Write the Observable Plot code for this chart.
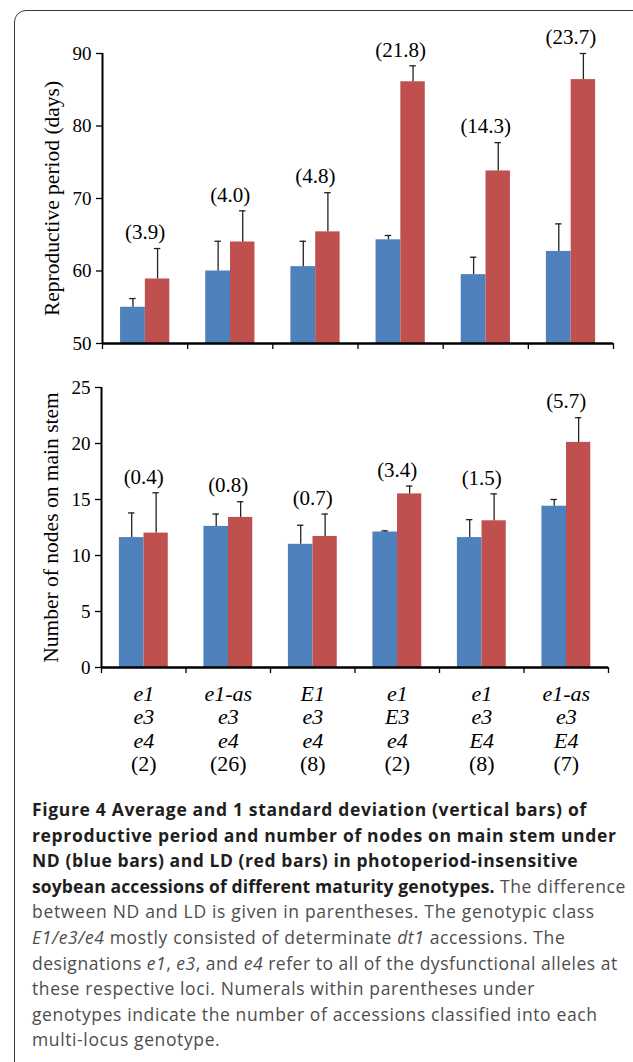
<!DOCTYPE html>
<html>
<head>
<meta charset="utf-8">
<script src="https://cdn.jsdelivr.net/npm/d3@7"></script>
<script src="https://cdn.jsdelivr.net/npm/@observablehq/plot@0.6"></script>
<style>
  html, body { margin: 0; padding: 0; background: #fff; width: 633px; height: 1062px; overflow: hidden; }
  #frame { position: absolute; left: 14px; top: 10px; width: 700px; height: 1200px; border: 1.5px solid #3a3a3a; border-radius: 12px; box-sizing: border-box; }
  #top { position: absolute; left: 0; top: 0; }
  #bottom { position: absolute; left: 0; top: 360px; }
  #caption { position: absolute; left: 32px; top: 797px; font-family: "Open Sans", sans-serif; font-size: 17.5px; line-height: 25.6px; color: #4d4d4d; letter-spacing: 0.62px; white-space: nowrap; }
  #caption b { color: #1e1e1e; font-weight: 700; letter-spacing: 0.66px; }
  #caption div { height: 25.6px; }
</style>
</head>
<body>
<div id="frame"></div>
<div id="top"></div>
<div id="bottom"></div>
<div id="caption">
<div><b>Figure 4 Average and 1 standard deviation (vertical bars) of</b></div>
<div><b>reproductive period and number of nodes on main stem under</b></div>
<div><b style="letter-spacing:0.56px">ND (blue bars) and LD (red bars) in photoperiod-insensitive</b></div>
<div><b style="letter-spacing:0.12px">soybean accessions of different maturity genotypes.</b> The difference</div>
<div style="letter-spacing:0.68px">between ND and LD is given in parentheses. The genotypic class</div>
<div><i>E1/e3/e4</i> mostly consisted of determinate <i>dt1</i> accessions. The</div>
<div style="letter-spacing:0.52px">designations <i>e1</i>, <i>e3</i>, and <i>e4</i> refer to all of the dysfunctional alleles at</div>
<div>these respective loci. Numerals within parentheses under</div>
<div>genotypes indicate the number of accessions classified into each</div>
<div>multi-locus genotype.</div>
</div>
<script>
// ---- data ----
const locusE1 = ["e1", "e1-as", "E1", "e1", "e1", "e1-as"];
const locusE3 = ["e3", "e3", "e3", "E3", "e3", "e3"];
const locusE4 = ["e4", "e4", "e4", "e4", "E4", "E4"];
const accessions = ["(2)", "(26)", "(8)", "(2)", "(8)", "(7)"];

const reproND   = [55.0, 60.0, 60.6, 64.3, 59.5, 62.7];
const reproNDsd = [1.2, 4.1, 3.5, 0.6, 2.4, 3.8];
const reproLD   = [58.9, 64.0, 65.4, 86.1, 73.8, 86.4];
const reproLDsd = [4.2, 4.3, 5.4, 2.2, 3.9, 3.6];
const reproDiff = ["(3.9)", "(4.0)", "(4.8)", "(21.8)", "(14.3)", "(23.7)"];
const reproTicks = [50, 60, 70, 80, 90];

const nodesND   = [11.6, 12.6, 11.0, 12.1, 11.6, 14.4];
const nodesNDsd = [2.2, 1.1, 1.7, 0.1, 1.6, 0.6];
const nodesLD   = [12.0, 13.4, 11.7, 15.5, 13.1, 20.1];
const nodesLDsd = [3.6, 1.4, 2.0, 0.7, 2.4, 2.2];
const nodesDiff = ["(0.4)", "(0.8)", "(0.7)", "(3.4)", "(1.5)", "(5.7)"];
const nodesTicks = [0, 5, 10, 15, 20, 25];

// ---- style ----
const BLUE = "#4f81bd", RED = "#c0504d";
const BAR = {l: 0.212, m: 0.503, r: 0.79};
const CAP = 0.038;
const SERIF = "'Liberation Serif', 'Times New Roman', serif";

function chart({nd, ndSd, ld, ldSd, diff, ticks, label, height, margins, bottomLabels}) {
  const lo = ticks[0], hi = ticks[ticks.length - 1];
  const rows = [];
  nd.forEach((v, i) => {
    rows.push({i, s: "ND", v, sd: ndSd[i], x1: i + BAR.l, x2: i + BAR.m});
    rows.push({i, s: "LD", v: ld[i], sd: ldSd[i], x1: i + BAR.m, x2: i + BAR.r});
  });
  const groups = nd.map((v, i) => ({i, top: Math.max(v + ndSd[i], ld[i] + ldSd[i]), diff: diff[i]}));
  const cx = d => (d.x1 + d.x2) / 2;
  const marks = [
    Plot.rectY(rows, {x1: "x1", x2: "x2", y1: () => lo, y2: "v", fill: d => d.s === "ND" ? BLUE : RED}),
    Plot.ruleX(rows, {x: cx, y1: "v", y2: d => d.v + d.sd, stroke: "#222", strokeWidth: 1.3}),
    Plot.ruleY(rows, {y: d => d.v + d.sd, x1: d => cx(d) - CAP, x2: d => cx(d) + CAP, stroke: "#222", strokeWidth: 1.3}),
    Plot.text(groups, {x: d => d.i + 0.5, y: "top", text: "diff", dy: -16, fontSize: 21, fill: "#000"}),
    Plot.axisY({ticks, tickSize: 6, tickPadding: 5, label: null, fontSize: 19, stroke: "#000", strokeWidth: 1.3}),
    Plot.axisX({ticks: d3.range(0, 7), tickSize: 6, tickFormat: () => "", label: null, stroke: "#000", strokeWidth: 1.3}),
    Plot.ruleX([0], {stroke: "#000", strokeWidth: 2}),
    Plot.ruleY([lo], {stroke: "#000", strokeWidth: 2.5}),
    Plot.text([label], {frameAnchor: "left", textAnchor: "middle", rotate: -90, dx: -50, fontSize: 21.5, fill: "#000"})
  ];
  if (bottomLabels) {
    marks.push(
      Plot.text(groups, {x: d => d.i + 0.5, frameAnchor: "bottom", lineAnchor: "top", dy: 17, lineHeight: 1.06,
        text: d => [locusE1[d.i], locusE3[d.i], locusE4[d.i]].join("\n"), fontStyle: "italic", fontSize: 22, fill: "#000"}),
      Plot.text(groups, {x: d => d.i + 0.5, frameAnchor: "bottom", lineAnchor: "top", dy: 88,
        text: d => accessions[d.i], fontSize: 22, fill: "#000"})
    );
  }
  return Plot.plot({
    width: 633, height,
    marginLeft: margins[3], marginRight: margins[1], marginTop: margins[0], marginBottom: margins[2],
    x: {type: "linear", domain: [0, 6]},
    y: {domain: [lo, hi]},
    style: {fontFamily: SERIF, fontSize: "19px", color: "#000", background: "transparent", overflow: "visible"},
    marks
  });
}

document.getElementById("top").appendChild(chart({
  nd: reproND, ndSd: reproNDsd, ld: reproLD, ldSd: reproLDsd, diff: reproDiff, ticks: reproTicks,
  label: "Reproductive period (days)", height: 360, margins: [53, 20, 17, 102]
}));
document.getElementById("bottom").appendChild(chart({
  nd: nodesND, ndSd: nodesNDsd, ld: nodesLD, ldSd: nodesLDsd, diff: nodesDiff, ticks: nodesTicks,
  label: "Number of nodes on main stem", height: 430, margins: [27, 25, 123, 101], bottomLabels: true
}));
</script>
</body>
</html>
